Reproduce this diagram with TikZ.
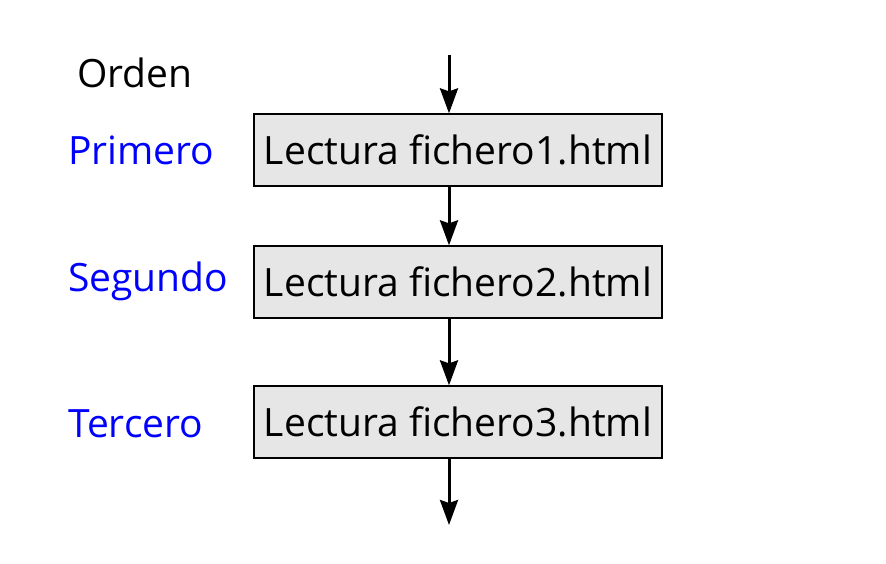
\documentclass[tikz,border=0pt]{standalone}
\usepackage{fontspec}
\setmainfont{Open Sans}
\usetikzlibrary{arrows.meta}
\definecolor{boxfill}{HTML}{E6E6E6}
\definecolor{lblblue}{HTML}{0000FF}
\begin{document}
\begin{tikzpicture}[x=1pt,y=-1pt,
  stepbox/.style={draw=black, line width=1.3pt, fill=boxfill, minimum width=408pt, minimum height=72pt, inner sep=0pt, font=\fontsize{39}{45}\selectfont},
  lbl/.style={anchor=west, inner sep=0pt, font=\fontsize{39}{45}\selectfont},
  flow/.style={line width=3pt, -{Stealth[length=25pt,width=18pt,inset=3pt]}}]
\useasboundingbox (0,0) rectangle (886,563);
\node[stepbox] (b1) at (458,150) {Lectura fichero1.html};
\node[stepbox] (b2) at (458,282) {Lectura fichero2.html};
\node[stepbox] (b3) at (458,422) {Lectura fichero3.html};
\coordinate (top) at (449,55);
\coordinate (bot) at (449,525);
\node[lbl] (orden) at (77,73) {Orden};
\node[lbl, text=lblblue] (p1) at (68,150) {Primero};
\node[lbl, text=lblblue] (p2) at (68,281) {Segundo};
\node[lbl, text=lblblue] (p3) at (68,424) {Tercero};
\draw[flow] (top) -- (top |- b1.north);
\draw[flow] (top |- b1.south) -- (top |- b2.north);
\draw[flow] (top |- b2.south) -- (top |- b3.north);
\draw[flow] (top |- b3.south) -- (bot);
\end{tikzpicture}
\end{document}
